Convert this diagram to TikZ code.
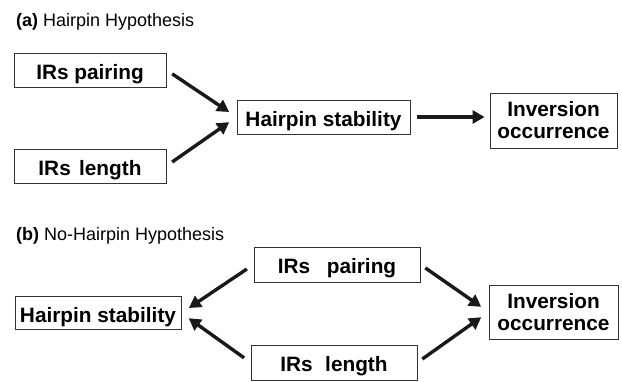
\documentclass[tikz,border=0pt]{standalone}
\usepackage{fontspec}
\setmainfont{Liberation Sans}
\usetikzlibrary{arrows.meta}
\begin{document}
\begin{tikzpicture}[x=1pt,y=-1pt,
  box/.style={draw=black!80,line width=0.8pt,inner sep=0pt,align=center,font=\fontsize{20.8}{22}\selectfont\bfseries},
  oneline/.style={text height=18pt,text depth=0pt},
  arr/.style={line width=3.4pt,-{Triangle[length=12pt,width=13pt]},black!90},
  ttl/.style={anchor=base west,inner sep=0pt,font=\fontsize{18}{20}\selectfont}]
\useasboundingbox (0,0) rectangle (622,381);
\node[ttl] (ta) at (16,26) {\textbf{(a)} Hairpin Hypothesis};
\node[box,oneline,minimum width=152pt,minimum height=34pt] (apair) at (90,70) {IRs pairing};
\node[box,oneline,minimum width=152pt,minimum height=34pt] (alen) at (90,166) {IRs\hspace{0.4em}length};
\node[box,oneline,minimum width=173pt,minimum height=34pt] (ahs) at (323.5,117) {Hairpin stability};
\node[box,minimum width=127pt,minimum height=55pt] (ainv) at (553.5,120.5) {Inversion\\occurrence};
\draw[arr,shorten <=7pt,shorten >=9pt] (apair.east) -- (ahs.west);
\draw[arr,shorten <=7pt,shorten >=9pt] (alen.east) -- (ahs.west);
\draw[arr,shorten <=7pt,shorten >=5pt] (ahs.east) -- (ainv.west|-ahs.east);
\node[ttl] (tb) at (16,240) {\textbf{(b)} No-Hairpin Hypothesis};
\node[box,oneline,minimum width=166pt,minimum height=33pt] (bhs) at (98,313) {Hairpin stability};
\node[box,oneline,minimum width=166pt,minimum height=35pt] (bpair) at (337,264.5) {IRs\hspace{0.8em}pairing};
\node[box,oneline,minimum width=166pt,minimum height=35pt] (blen) at (334,362.5) {IRs\hspace{0.6em}length};
\node[box,minimum width=129pt,minimum height=54pt] (binv) at (553.5,312) {Inversion\\occurrence};
\draw[arr,shorten <=8pt,shorten >=9pt] (bpair.west) -- (bhs.east);
\draw[arr,shorten <=8pt,shorten >=9pt] (blen.west) -- (bhs.east);
\draw[arr,shorten <=6pt,shorten >=9pt] (bpair.east) -- (binv.west);
\draw[arr,shorten <=6pt,shorten >=9pt] (blen.east) -- (binv.west);
\end{tikzpicture}
\end{document}
